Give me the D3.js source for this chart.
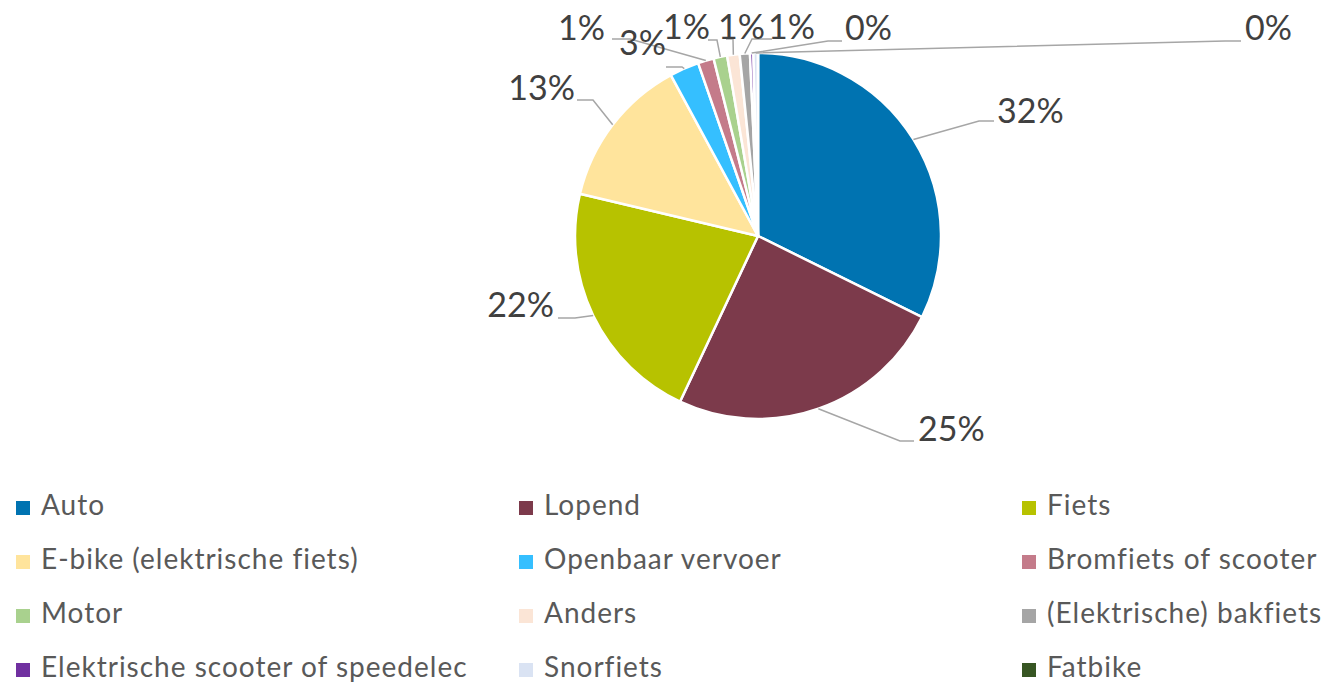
<!DOCTYPE html>
<html>
<head>
<meta charset="utf-8">
<script src="https://cdn.jsdelivr.net/npm/d3@7"></script>
<style>
  body { margin: 0; background: #fff; }
  svg text { font-family: Lato, "Open Sans", sans-serif; }
</style>
</head>
<body>
<div class="chart-container"></div>
<script>
//! DATA
const categories = [
  'Auto', 'Lopend', 'Fiets', 'E-bike (elektrische fiets)', 'Openbaar vervoer',
  'Bromfiets of scooter', 'Motor', 'Anders', '(Elektrische) bakfiets',
  'Elektrische scooter of speedelec', 'Snorfiets', 'Fatbike'
];
const values = [32.3, 24.7, 21.7, 13.4, 2.6, 1.4, 1.2, 1.1, 0.9, 0.3, 0.4, 0];
const colors = [
  '#0073b1', '#7c3a4b', '#b7c200', '#ffe49c', '#35bfff', '#c47b8a',
  '#a9d18e', '#fbe5d6', '#a5a5a5', '#7030a0', '#dae3f3', '#375623'
];

//! LAYOUT
const WIDTH = 1342;
const HEIGHT = 684;
const CX = 758, CY = 236, R = 183;

// where Excel put each data label: text x / baseline y, anchor,
// leader end (ax, ay) and elbow x
const labelSpots = [
  { x: 997, y: 123, anchor: 'start', ax: 994, ay: 121, ex: 979 },
  { x: 918, y: 441, anchor: 'start', ax: 914, ay: 441, ex: 900 },
  { x: 554, y: 317, anchor: 'end', ax: 558, ay: 318, ex: 575 },
  { x: 575, y: 100, anchor: 'end', ax: 577, ay: 100, ex: 593 },
  { x: 666, y: 55, anchor: 'end', ax: 666, ay: 67, ex: 682 },
  { x: 605, y: 40, anchor: 'end', ax: 612, ay: 39, ex: 630 },
  { x: 710, y: 39, anchor: 'end', ax: 708, ay: 40, ex: 717 },
  { x: 718, y: 39, anchor: 'start', ax: 726, ay: 39, ex: 733 },
  { x: 768, y: 39, anchor: 'start', ax: 772, ay: 39, ex: 752 },
  { x: 845, y: 40, anchor: 'start', ax: 842, ay: 41, ex: 828 },
  { x: 1245, y: 40, anchor: 'start', ax: 1241, ay: 41, ex: 1225 },
  null
];

//! SVG
const svg = d3.select('.chart-container')
  .append('svg')
  .attr('width', WIDTH)
  .attr('height', HEIGHT);

const total = d3.sum(values);
const pct = d3.format('.0%');

const pie = d3.pie().sort(null).value(d => d.value);
const arc = d3.arc().innerRadius(0).outerRadius(R);

const data = categories.map((c, i) => ({ name: c, value: values[i], color: colors[i], i }));
const arcs = pie(data);

const g = svg.append('g').attr('transform', `translate(${CX},${CY})`);

g.selectAll('path.slice')
  .data(arcs)
  .enter()
  .append('path')
  .attr('class', 'slice')
  .attr('d', arc)
  .attr('fill', d => d.data.color)
  .attr('stroke', '#fff')
  .attr('stroke-width', 2.5)
  .attr('stroke-linejoin', 'round');

// leader lines + labels
const labelled = arcs.filter(d => labelSpots[d.data.i] && d.data.value > 0);

const edgePoint = d => {
  const a = (d.startAngle + d.endAngle) / 2;
  return [CX + R * Math.sin(a), CY - R * Math.cos(a)];
};

svg.selectAll('path.leader')
  .data(labelled)
  .enter()
  .append('path')
  .attr('class', 'leader')
  .attr('fill', 'none')
  .attr('stroke', '#a6a6a6')
  .attr('stroke-width', 1.5)
  .attr('d', d => {
    const s = labelSpots[d.data.i];
    return d3.line()([edgePoint(d), [s.ex, s.ay], [s.ax, s.ay]]);
  });

svg.selectAll('text.label')
  .data(labelled)
  .enter()
  .append('text')
  .attr('class', 'label')
  .attr('x', d => labelSpots[d.data.i].x)
  .attr('y', d => labelSpots[d.data.i].y)
  .attr('text-anchor', d => labelSpots[d.data.i].anchor)
  .attr('font-size', 34)
  .attr('fill', '#404040')
  .text(d => pct(d.data.value / total));

//! LEGEND
const colX = d3.scaleLinear().domain([0, 2]).range([16, 1022]);
const rowY = d3.scaleLinear().domain([0, 3]).range([515, 677]);

const legend = svg.append('g').attr('id', 'legend');

const items = legend.selectAll('g')
  .data(data)
  .enter()
  .append('g')
  .attr('transform', (d, i) => `translate(${colX(i % 3)},${rowY(Math.floor(i / 3))})`);

items.append('rect')
  .attr('x', 0)
  .attr('y', -14)
  .attr('width', 14)
  .attr('height', 14)
  .attr('fill', d => d.color);

items.append('text')
  .attr('x', 25)
  .attr('y', 0)
  .attr('font-size', 28)
  .attr('letter-spacing', 1)
  .attr('fill', '#595959')
  .text(d => d.name);
</script>
</body>
</html>
